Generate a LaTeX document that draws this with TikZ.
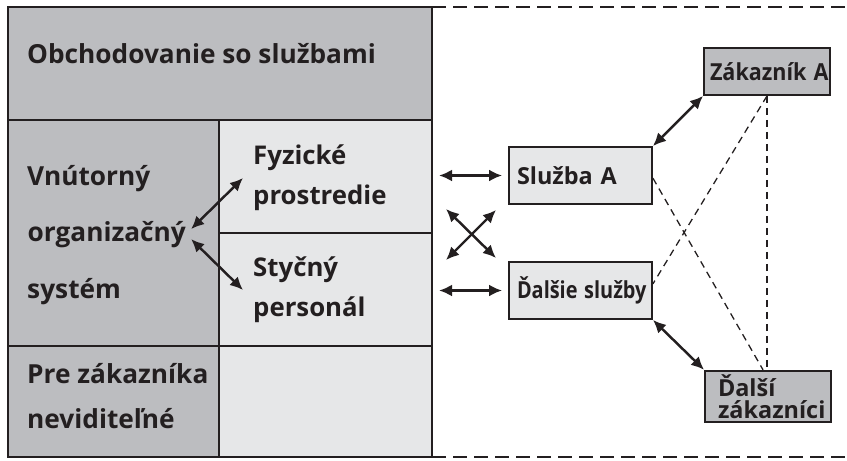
\documentclass[tikz,border=0pt]{standalone}
\usepackage{fontspec}
\setmainfont{Open Sans}
\usetikzlibrary{arrows.meta}
\definecolor{bxInk}{HTML}{231F20}
\definecolor{bxDark}{HTML}{BCBDC0}
\definecolor{bxLight}{HTML}{E6E7E8}

\begin{document}
\begin{tikzpicture}[
      x=0.3mm, y=-0.3mm,
      font=\fontsize{22.4}{26}\selectfont\bfseries,
      >={Latex[length=3.9mm, width=3.6mm]},
      txt/.style={anchor=base west, inner sep=0pt, text=bxInk},
      cell/.style={anchor=west, align=left, inner xsep=3mm, text=bxInk,
                   font=\fontsize{22}{34}\selectfont\bfseries},
      svc/.style={draw=bxInk, line width=1.6pt, fill=bxLight, text=bxInk,
                  font=\fontsize{20}{24}\selectfont\bfseries,
                  minimum height=17.1mm, text width=38.1mm, inner xsep=2.4mm, align=left},
      cust/.style={draw=bxInk, line width=1.6pt, fill=bxDark, text=bxInk,
                   font=\fontsize{20}{24}\selectfont\bfseries,
                   minimum height=14.1mm, align=left},
      link/.style={<->, draw=bxInk, line width=2.1pt},
      tie/.style={draw=bxInk, line width=1.1pt, dash pattern=on 2.1mm off 1.5mm},
    ]
    \useasboundingbox (0,0) rectangle (847,460);

    % ---------- tabulka vlevo ----------
    \fill[bxDark]  (8,7) rectangle (432,120);
    \fill[bxDark]  (8,120) rectangle (219,457);
    \fill[bxLight] (219,120) rectangle (432,457);
    \draw[bxInk, line width=2.1pt] (8,120) -- (432,120);
    \draw[bxInk, line width=1.6pt] (219,120) -- (219,457);
    \draw[bxInk, line width=1.6pt] (219,233) -- (432,233);
    \draw[bxInk, line width=1.6pt] (8,346) -- (432,346);
    \draw[bxInk, line width=2.5pt] (8,7) rectangle (432,457);

    % prostredie sluzby: otvoreny ramec
    \draw[bxInk, line width=1.7pt, dash pattern=on 4.2mm off 2.1mm] (432,7) -- (847,7);
    \draw[bxInk, line width=2.5pt, dash pattern=on 4.2mm off 2.1mm] (432,457) -- (847,457);

    \node[txt] (obch) at (27,63)  {Obchodovanie so službami};
    \node[txt] (vnu)  at (27,185) {Vnútorný};
    \node[txt, inner xsep=1.5mm] (org) at (22.5,241) {organizačný};
    \node[txt] (sys)  at (27,298) {systém};
    \node[txt] (pre1) at (27,383) {Pre zákazníka};
    \node[txt] (pre2) at (27,428) {neviditeľné};

    \node[cell] (fyz) at (243,178) {Fyzické\\prostredie};
    \node[cell] (sty) at (243,290) {Styčný\\personál};

    \draw[link] ([yshift=1.5mm]org.east) -- (fyz.west);
    \draw[link] ([yshift=-1.5mm]org.east) -- (sty.west);

    % ---------- sluzby a zakaznici ----------
    \node[svc] (sluz) at (580.5,175.5) {Služba A};
    \node[svc] (dals) at (580.5,290.5) {\scalebox{0.85}[1]{Ďalšie služby}};
    \node[cust, text width=34.2mm, inner xsep=1.8mm] (zakA) at (767,71.5)
      {\scalebox{0.92}[1]{Zákazník A}};
    \node[cust, text width=30mm, inner xsep=3.9mm,
          font=\fontsize{20}{18.5}\selectfont\bfseries] (dzak) at (768,396.5) {Ďalší\\zákazníci};

    \coordinate (tblA) at (439,175.5);
    \coordinate (tblB) at (439,290.5);
    \coordinate (crNW) at (446,209);
    \coordinate (crSE) at (496,258);
    \coordinate (crNE) at (496,210);
    \coordinate (crSW) at (446,260);

    \draw[link, shorten >=1.8mm] (tblA) -- (sluz.west);
    \draw[link, shorten >=1.8mm] (tblB) -- (dals.west);
    \draw[link] (crNW) -- (crSE);
    \draw[link] (crNE) -- (crSW);

    \draw[link] (sluz.north east) -- (zakA.south west);
    \draw[link] (dals.south east) -- (dzak.north west);

    \draw[tie] (zakA.south) -- (zakA.south |- dzak.north);
    \draw[tie] (zakA.south) -- ([yshift=2mm]dals.east);
    \draw[tie] ([yshift=-0.8mm]sluz.east) -- ([xshift=-1.5mm]dzak.north);

  \end{tikzpicture}
\end{document}
